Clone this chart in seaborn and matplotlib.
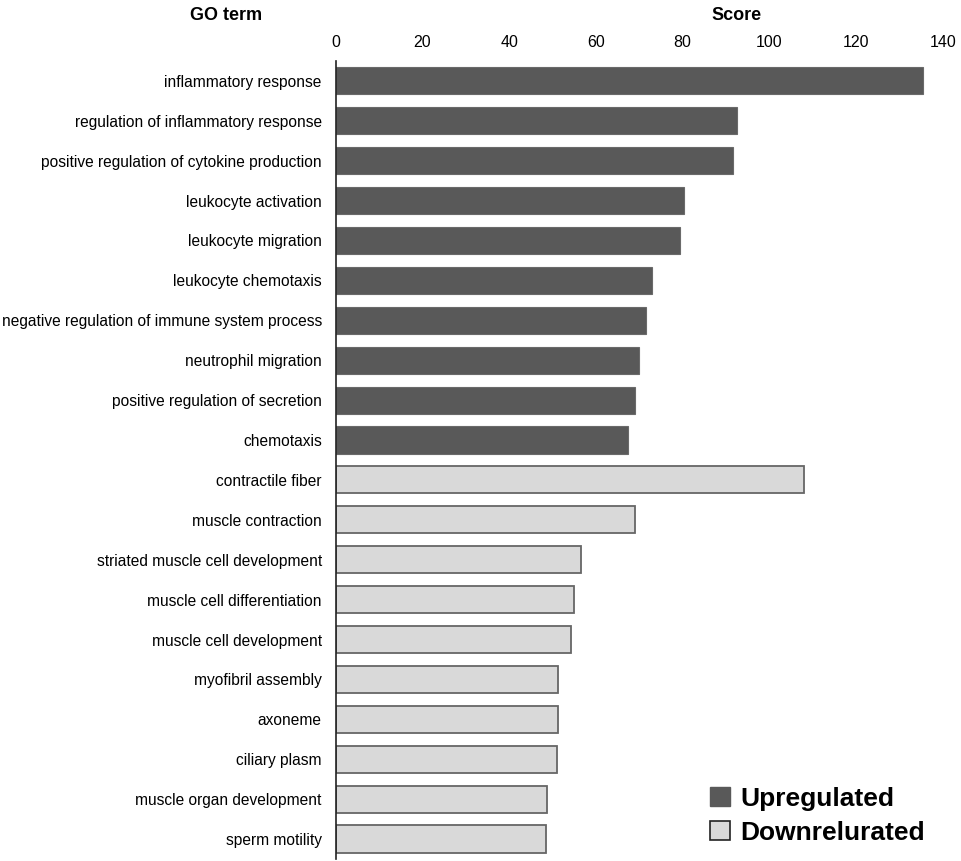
import pandas as pd
import seaborn as sns
import matplotlib.pyplot as plt
from matplotlib.patches import Patch

terms = ["inflammatory response", "regulation of inflammatory response",
         "positive regulation of cytokine production", "leukocyte activation",
         "leukocyte migration", "leukocyte chemotaxis",
         "negative regulation of immune system process", "neutrophil migration",
         "positive regulation of secretion", "chemotaxis",
         "contractile fiber", "muscle contraction",
         "striated muscle cell development", "muscle cell differentiation",
         "muscle cell development", "myofibril assembly", "axoneme",
         "ciliary plasm", "muscle organ development", "sperm motility"]
scores = [135.4, 92.5, 91.6, 80.3, 79.3, 72.9, 71.5, 69.9, 69.0, 67.3,
          107.9, 69.0, 56.5, 54.9, 54.2, 51.2, 51.2, 51.0, 48.7, 48.4]
groups = ["Upregulated"] * 10 + ["Downrelurated"] * 10

df = pd.DataFrame({"term": terms, "score": scores, "group": groups})

sns.set_style("white")
plt.rcParams['font.family'] = ['Liberation Sans', 'DejaVu Sans']

up_col = "#595959"
down_col = "#d9d9d9"

fig = plt.figure(figsize=(9.62, 8.61), dpi=100)
ax = fig.add_axes([0.349, 0.0023, 0.631, 0.927])
sns.barplot(data=df, x="score", y="term", hue="group", dodge=False,
            palette={"Upregulated": up_col, "Downrelurated": down_col},
            width=0.68, ax=ax, legend=False)

for bar, g in zip(ax.patches, groups):
    if g == "Upregulated":
        bar.set_edgecolor("#6a6a6a")
        bar.set_linewidth(0.8)
    else:
        bar.set_edgecolor("#666666")
        bar.set_linewidth(1.3)

ax.set_xlim(0, 140)
ax.set_ylim(len(terms) - 0.5, -0.5)
ax.xaxis.tick_top()
ax.set_xticks(range(0, 141, 20))
ax.tick_params(axis="both", length=0, colors="black")
ax.tick_params(axis="x", pad=8, labelsize=11.5)
ax.tick_params(axis="y", pad=10, labelsize=11.2)
ax.set_xlabel("")
ax.set_ylabel("")
for s in ["top", "right", "bottom"]:
    ax.spines[s].set_visible(False)
ax.spines["left"].set_color("#222222")
ax.spines["left"].set_linewidth(1.2)

fig.text(0.235, 0.992, "GO term", ha="center", va="top", fontsize=13, fontweight="bold", color="black")
fig.text(0.766, 0.992, "Score", ha="center", va="top", fontsize=13, fontweight="bold", color="black")

handles = [Patch(facecolor=up_col, edgecolor=up_col, label="Upregulated"),
           Patch(facecolor=down_col, edgecolor="#222222", linewidth=1.2, label="Downrelurated")]
leg = ax.legend(handles=handles, loc="lower left", bbox_to_anchor=(0.577, -0.012),
                frameon=False, handlelength=0.75, handleheight=0.75, handletextpad=0.4,
                labelspacing=0.38, labelcolor="black", prop={"size": 19, "weight": "bold"})

fig.savefig("out.png", dpi=100)
